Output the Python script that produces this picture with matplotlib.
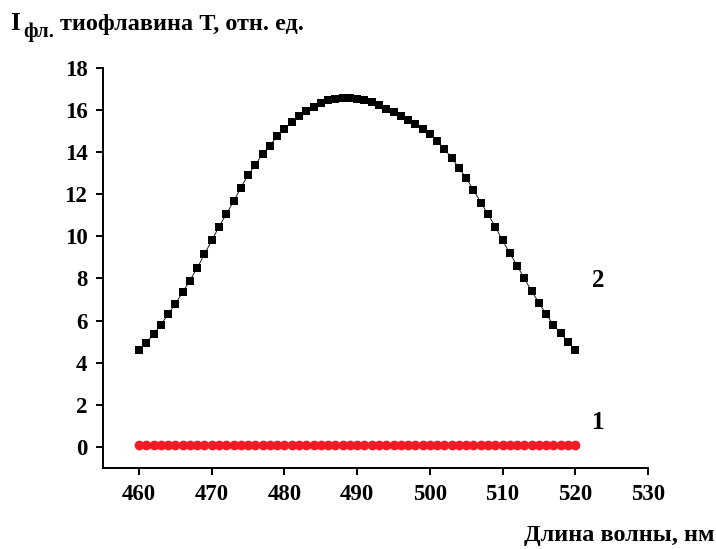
import matplotlib.pyplot as plt

plt.rcParams['font.family'] = ['Liberation Serif', 'DejaVu Serif']
plt.rcParams['font.weight'] = 'bold'

# wavelength, nm
wavelength = list(range(460, 521))

# curve 2 (black squares)
curve2 = [4.6, 4.95, 5.35, 5.8, 6.3, 6.8, 7.35, 7.9, 8.5, 9.15,
          9.8, 10.45, 11.05, 11.65, 12.3, 12.9, 13.4, 13.9, 14.3, 14.75,
          15.1, 15.4, 15.7, 15.95, 16.15, 16.3, 16.45, 16.5, 16.55, 16.55,
          16.5, 16.45, 16.35, 16.2, 16.05, 15.9, 15.7, 15.5, 15.3, 15.1,
          14.85, 14.5, 14.15, 13.7, 13.25, 12.75, 12.2, 11.6, 11.05, 10.45,
          9.8, 9.2, 8.6, 8.0, 7.4, 6.85, 6.3, 5.8, 5.4, 5.0, 4.6]

# curve 1 (red circles)
curve1 = [0.11, 0.11, 0.11, 0.11, 0.11, 0.1, 0.1, 0.1, 0.1, 0.1,
          0.1, 0.1, 0.1, 0.1, 0.1, 0.1, 0.1, 0.1, 0.1, 0.1,
          0.1, 0.1, 0.1, 0.1, 0.1, 0.1, 0.1, 0.1, 0.1, 0.1,
          0.1, 0.1, 0.1, 0.1, 0.1, 0.1, 0.1, 0.1, 0.1, 0.1,
          0.1, 0.1, 0.1, 0.1, 0.1, 0.1, 0.1, 0.1, 0.1, 0.1,
          0.1, 0.1, 0.1, 0.1, 0.1, 0.09, 0.09, 0.09, 0.09, 0.09, 0.09]

fig = plt.figure(figsize=(7.16, 5.49), dpi=100)
ax = fig.add_axes([0.1434, 0.147, 0.905 - 0.1434, 0.877 - 0.147])

ax.plot(wavelength, curve2, color='black', lw=0.6, marker='s', ms=5.8,
        markeredgewidth=0, clip_on=False)
ax.plot(wavelength, curve1, color='#ee1c25', lw=0, marker='o', ms=7,
        markeredgewidth=0, clip_on=False)

ax.text(522.3, 1.15, '1', fontsize=18, ha='left', va='center')
ax.text(522.3, 7.9, '2', fontsize=18, ha='left', va='center')

ax.set_xlim(455, 530)
ax.set_ylim(-1, 18)
ax.set_xticks(range(460, 531, 10))
ax.set_yticks(range(0, 19, 2))
ax.spines['top'].set_visible(False)
ax.spines['right'].set_visible(False)
ax.spines['left'].set_bounds(-1, 18)
for s in ['left', 'bottom']:
    ax.spines[s].set_linewidth(1.4)
ax.tick_params(direction='out', length=5, width=1.4, labelsize=16.5, pad=6)

# y-axis title with subscript
t1 = fig.text(0.014, 0.945, 'I', fontsize=18, ha='left', va='baseline')
t2 = fig.text(0.032, 0.933, 'фл.', fontsize=15, ha='left', va='baseline')
fig.text(0.084, 0.945, 'тиофлавина Т, отн. ед.', fontsize=17.5,
         ha='left', va='baseline')
fig.text(0.998, 0.014, 'Длина волны, нм', fontsize=17.5, ha='right', va='baseline')

fig.savefig('out.png', dpi=100)
